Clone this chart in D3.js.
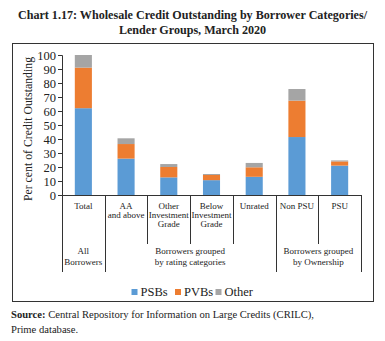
<!DOCTYPE html>
<html>
<head>
<meta charset="utf-8">
<script src="https://cdn.jsdelivr.net/npm/d3@7"></script>
<style>
  body { margin: 0; background: #fff; }
  text { font-family: "Liberation Serif", "Times New Roman", serif; fill: #222; }
</style>
</head>
<body>
<div id="chart"></div>
<script>
// categories on the x axis (each entry is the lines of its label)
var categories = [
  ["Total"],
  ["AA", "and above"],
  ["Other", "Investment", "Grade"],
  ["Below", "Investment", "Grade"],
  ["Unrated"],
  ["Non PSU"],
  ["PSU"]
];
// second level of the axis: label lines and how many categories each group spans
var groups = [
  { lines: ["All", "Borrowers"], span: 1 },
  { lines: ["Borrowers grouped", "by rating categories"], span: 4 },
  { lines: ["Borrowers grouped", "by Ownership"], span: 2 }
];
var psbs = [62, 26, 12.6, 10.6, 13, 41.4, 21];
var pvbs = [29, 10.4, 7.4, 3.7, 6.8, 26, 3];
var other = [9, 4.1, 2.1, 0.7, 3.1, 8.3, 0.7];
var seriesNames = ["PSBs", "PVBs", "Other"];
var colors = ["#5b9bd5", "#ed7d31", "#a5a5a5"];
var yTicks = [0, 10, 20, 30, 40, 50, 60, 70, 80, 90, 100];

var width = 385, height = 341;
var plotLeft = 62, plotRight = 361, plotTop = 55, plotBottom = 195;

var svg = d3.select('#chart').append('svg')
  .attr('width', width)
  .attr('height', height);

// title
svg.append('g').selectAll('text')
  .data(["Chart 1.17: Wholesale Credit Outstanding by Borrower Categories/", "Lender Groups, March 2020"])
  .enter().append('text')
  .attr('x', 192.5)
  .attr('y', function (d, i) { return 19 + i * 15; })
  .attr('text-anchor', 'middle')
  .style('font-size', '12.1px')
  .style('font-weight', 'bold')
  .text(function (d) { return d; });

// chart frame
svg.append('rect')
  .attr('x', 12.5).attr('y', 43.5)
  .attr('width', 361).attr('height', 258)
  .attr('fill', 'none')
  .attr('stroke', '#333')
  .attr('stroke-width', 1);

var x = d3.scaleBand()
  .domain(d3.range(categories.length))
  .range([plotLeft, plotRight])
  .paddingInner(0.6)
  .paddingOuter(0.3);

var y = d3.scaleLinear()
  .domain([0, 100])
  .range([plotBottom, plotTop]);

// stacked bars
var rows = categories.map(function (c, i) {
  return { i: i, PSBs: psbs[i], PVBs: pvbs[i], Other: other[i] };
});
var stack = d3.stack().keys(seriesNames)(rows);

svg.append('g').selectAll('g')
  .data(stack)
  .enter().append('g')
  .attr('fill', function (d, i) { return colors[i]; })
  .selectAll('rect')
  .data(function (d) { return d; })
  .enter().append('rect')
  .attr('x', function (d) { return x(d.data.i); })
  .attr('width', x.bandwidth())
  .attr('y', function (d) { return y(d[1]); })
  .attr('height', function (d) { return y(d[0]) - y(d[1]); });

// y axis
var yAxis = svg.append('g')
  .attr('transform', 'translate(' + plotLeft + ',0)')
  .call(d3.axisLeft(y).tickValues(yTicks).tickSize(4).tickPadding(2));
yAxis.select('.domain').attr('stroke', '#333');
yAxis.selectAll('.tick line').attr('stroke', '#333');
yAxis.selectAll('text')
  .style('font-family', '"Liberation Serif", serif')
  .style('font-size', '12.5px')
  .attr('fill', '#222');

svg.append('text')
  .attr('transform', 'translate(32,' + ((plotTop + plotBottom) / 2 + 4) + ') rotate(-90)')
  .attr('text-anchor', 'middle')
  .style('font-size', '11.8px')
  .text('Per cent of Credit Outstanding');

// x axis line and category dividers
var step = x.step();
var edge = function (k) { return plotLeft + k * step; };

svg.append('line')
  .attr('x1', plotLeft).attr('x2', plotRight)
  .attr('y1', plotBottom + 0.5).attr('y2', plotBottom + 0.5)
  .attr('stroke', '#333');

var groupEdges = [0];
groups.forEach(function (g) { groupEdges.push(groupEdges[groupEdges.length - 1] + g.span); });

d3.range(categories.length + 1).forEach(function (k) {
  var long = groupEdges.indexOf(k) >= 0;
  svg.append('line')
    .attr('x1', Math.round(edge(k)) + 0.5).attr('x2', Math.round(edge(k)) + 0.5)
    .attr('y1', plotBottom).attr('y2', long ? 272 : 244)
    .attr('stroke', '#333');
});

// category labels
var catLabels = svg.append('g').selectAll('text')
  .data(categories)
  .enter().append('text')
  .attr('text-anchor', 'middle')
  .style('font-size', '9px');
catLabels.selectAll('tspan')
  .data(function (d, i) { return d.map(function (t) { return { t: t, i: i }; }); })
  .enter().append('tspan')
  .attr('x', function (d) { return x(d.i) + x.bandwidth() / 2; })
  .attr('y', function (d, j) { return 209 + j * 9; })
  .text(function (d) { return d.t; });

// group labels
var groupLabels = svg.append('g').selectAll('text')
  .data(groups)
  .enter().append('text')
  .attr('text-anchor', 'middle')
  .style('font-size', '9px');
groupLabels.selectAll('tspan')
  .data(function (d, i) {
    var cx = (edge(groupEdges[i]) + edge(groupEdges[i + 1])) / 2;
    return d.lines.map(function (t) { return { t: t, cx: cx }; });
  })
  .enter().append('tspan')
  .attr('x', function (d) { return d.cx; })
  .attr('y', function (d, j) { return 254 + j * 11; })
  .text(function (d) { return d.t; });

// legend
var legendX = [131.5, 175, 215.5];
var legend = svg.append('g').selectAll('g')
  .data(seriesNames)
  .enter().append('g')
  .attr('transform', function (d, i) { return 'translate(' + legendX[i] + ',289)'; });
legend.append('rect')
  .attr('width', 6).attr('height', 6)
  .attr('fill', function (d, i) { return colors[i]; });
legend.append('text')
  .attr('x', 9).attr('y', 6.5)
  .style('font-size', '12.5px')
  .text(function (d) { return d; });

// source note
var src = svg.append('text')
  .attr('x', 11).attr('y', 318)
  .style('font-size', '10.6px');
src.append('tspan').style('font-weight', 'bold').text('Source:');
src.append('tspan').text(' Central Repository for Information on Large Credits (CRILC),');
svg.append('text')
  .attr('x', 11).attr('y', 333)
  .style('font-size', '10.6px')
  .text('Prime database.');
</script>
</body>
</html>
